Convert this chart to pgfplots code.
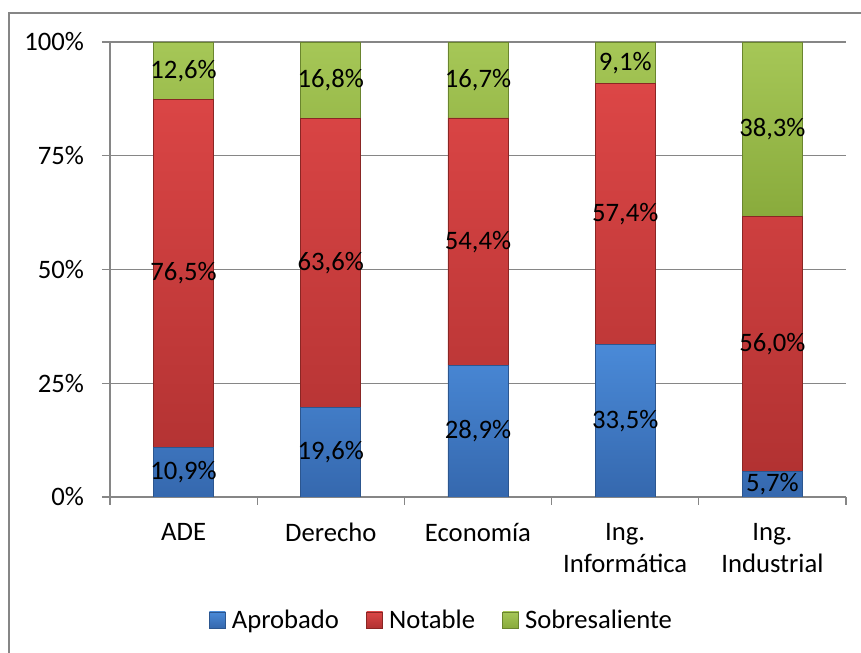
\documentclass[border=0pt]{standalone}
\usepackage{pgfplots}
\pgfplotsset{compat=1.18}
\usepackage{pgfplotstable}
\usepackage{fontspec}
\setmainfont{Carlito}
\definecolor{axgray}{HTML}{868686}
\definecolor{blueT}{HTML}{4A8AD8}
\definecolor{blueB}{HTML}{3568AE}
\definecolor{blueE}{HTML}{2C568F}
\definecolor{redT}{HTML}{DC4646}
\definecolor{redB}{HTML}{B23232}
\definecolor{redE}{HTML}{8A2624}
\definecolor{grnT}{HTML}{A6C757}
\definecolor{grnB}{HTML}{89AB3C}
\definecolor{grnE}{HTML}{6A852E}
\newcommand\chartfont{\fontsize{20}{24}\selectfont}
\pgfplotstableread{
x A N S
0 10.9 76.5 12.6
1 19.6 63.6 16.8
2 28.9 54.4 16.7
3 33.5 57.4 9.1
4 5.7 56.0 38.3
}\data
\pgfplotstablecreatecol[expr={\thisrow{A}/2}]{mA}\data
\pgfplotstablecreatecol[expr={\thisrow{A}+\thisrow{N}/2}]{mN}\data
\pgfplotstablecreatecol[expr={\thisrow{A}+\thisrow{N}+\thisrow{S}/2}]{mS}\data
\begin{document}
\begin{tikzpicture}
\path[use as bounding box] (-82.5pt,-117pt) rectangle (563.25pt,372.75pt);
\draw[axgray, line width=1.5pt] (-75.75pt,-130pt) -- (-75.75pt,363pt) -- (580pt,363pt);
\begin{axis}[
  at={(0,0)}, anchor=south west,
  scale only axis, width=552pt, height=341.25pt,
  ybar stacked, bar width=45pt,
  xmin=-0.5, xmax=4.5, ymin=0, ymax=100,
  axis lines*=left,
  axis line style={axgray, line width=1pt, -},
  xtick={0,1,2,3,4},
  xticklabels={ADE,Derecho,Economía,{Ing.\\Informática},{Ing.\\Industrial}},
  xticklabel style={align=center, font=\chartfont, yshift=-10pt},
  major x tick style={draw=none},
  minor xtick={-0.5,0.5,1.5,2.5,3.5,4.5},
  minor x tick style={axgray, line width=1pt},
  minor tick length=6pt,
  major tick length=6pt,
  tick align=outside,
  ytick={0,25,50,75,100},
  yticklabels={0\%,25\%,50\%,75\%,100\%},
  yticklabel style={font=\chartfont, xshift=-10pt},
  y tick style={axgray, line width=1pt},
  ymajorgrids,
  grid style={axgray, line width=0.9pt},
  legend style={at={(0.451,-0.27)}, anchor=center, draw=none, fill=none,
    font=\chartfont, legend columns=3,
    /tikz/every odd column/.append style={column sep=2.5pt},
    /tikz/every even column/.append style={column sep=18.5pt}},
  every axis plot post/.append style={
    legend image code/.code={\draw[##1] (0pt,-6pt) rectangle (12pt,6pt);}},
]
\addplot[draw=blueE, line width=0.5pt, top color=blueT, bottom color=blueB] table[x=x,y=A]{\data};
\addplot[draw=redE, line width=0.5pt, top color=redT, bottom color=redB] table[x=x,y=N]{\data};
\addplot[draw=grnE, line width=0.5pt, top color=grnT, bottom color=grnB] table[x=x,y=S]{\data};
\legend{Aprobado,Notable,Sobresaliente}
\end{axis}
\begin{axis}[
  at={(0,0)}, anchor=south west,
  scale only axis, width=552pt, height=341.25pt,
  xmin=-0.5, xmax=4.5, ymin=0, ymax=100,
  hide axis, clip=false,
  nodes near coords={\pgfmathprintnumber[fixed,fixed zerofill,precision=1,use comma,assume math mode=true]{\pgfplotspointmeta}\%},
  nodes near coords align=center,
  every node near coord/.append style={font=\chartfont, text=black, anchor=center, inner sep=0pt},
]
\addplot[draw=none, mark=none, point meta=explicit] table[x=x,y=mA,meta=A]{\data};
\addplot[draw=none, mark=none, point meta=explicit] table[x=x,y=mN,meta=N]{\data};
\addplot[draw=none, mark=none, point meta=explicit] table[x=x,y=mS,meta=S]{\data};
\end{axis}
\end{tikzpicture}
\end{document}
